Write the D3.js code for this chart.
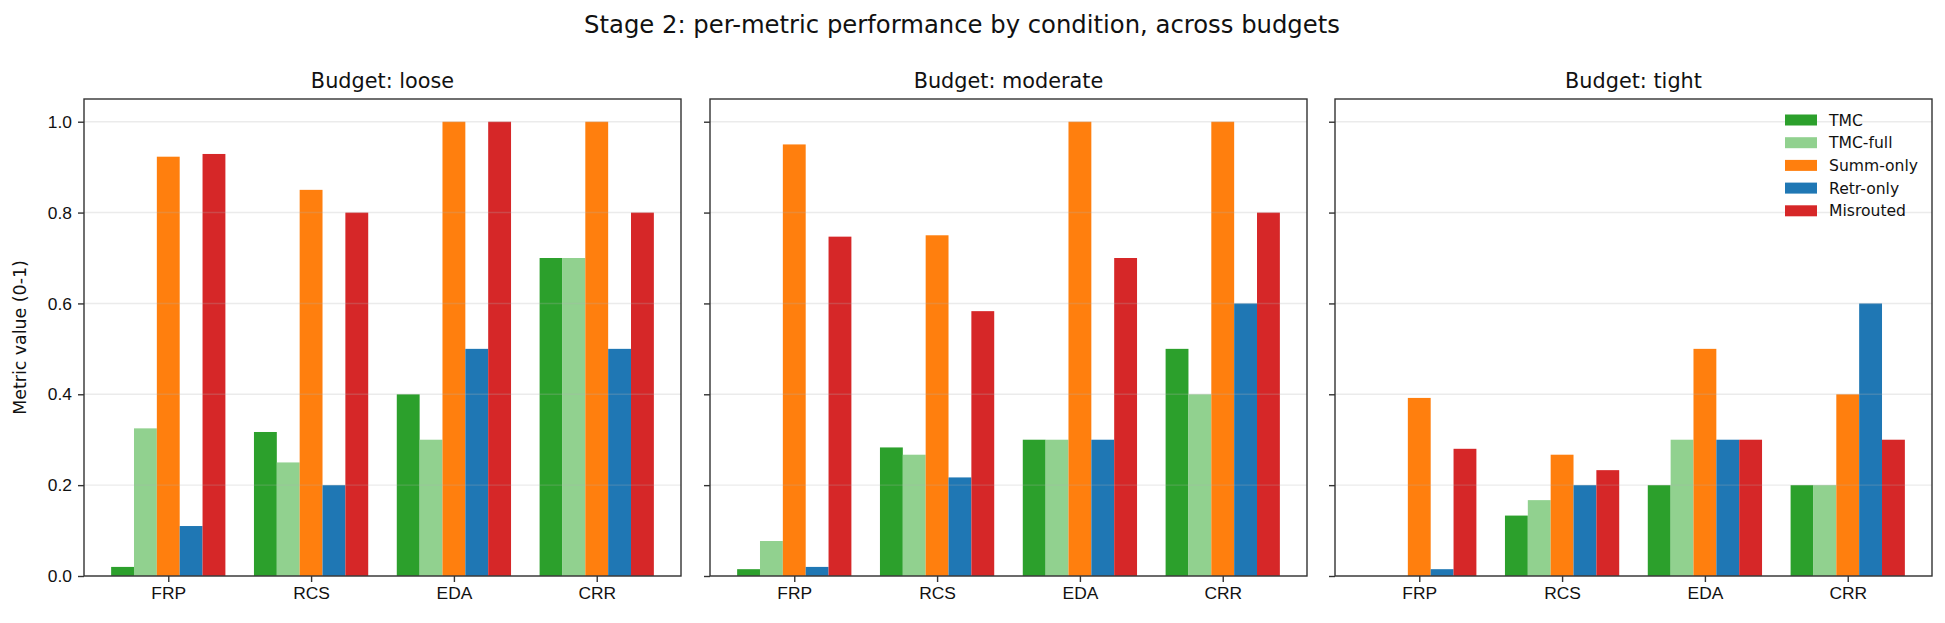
<!DOCTYPE html>
<html>
<head>
  <meta charset="utf-8">
  <style type="text/css">
  body { margin: 0; background: #fff; }
  svg { font-family: "DejaVu Sans", sans-serif; }
  .tick text { font-size: 17.4px; fill: #111; }
  .axis path { display: none; }
  .axis line { stroke: #333; stroke-width: 1.4px; }
  .grid line { stroke: #b0b0b0; stroke-opacity: 0.25; stroke-width: 1.4px; }
  .frame { fill: none; stroke: #333; stroke-width: 1.4px; }
  .legend text { font-size: 15.6px; fill: #111; }
  </style>
</head>
<body>
  <script src="https://d3js.org/d3.v7.min.js"></script>
  <script>
    // data
    var metrics = ["FRP", "RCS", "EDA", "CRR"];
    var conditions = ["TMC", "TMC-full", "Summ-only", "Retr-only", "Misrouted"];
    var colors = ["#2ca02c", "#91d18f", "#ff7f0e", "#1f77b4", "#d62728"];
    var budgets = ["loose", "moderate", "tight"];
    var yTicks = [0, 0.2, 0.4, 0.6, 0.8, 1.0];

    // one row per condition, values per metric (FRP, RCS, EDA, CRR)
    var loose = [
      [0.02, 0.317, 0.4, 0.7],
      [0.325, 0.25, 0.3, 0.7],
      [0.923, 0.85, 1.0, 1.0],
      [0.11, 0.2, 0.5, 0.5],
      [0.929, 0.8, 1.0, 0.8]
    ];
    var moderate = [
      [0.015, 0.283, 0.3, 0.5],
      [0.077, 0.267, 0.3, 0.4],
      [0.95, 0.75, 1.0, 1.0],
      [0.02, 0.217, 0.3, 0.6],
      [0.747, 0.583, 0.7, 0.8]
    ];
    var tight = [
      [0, 0.133, 0.2, 0.2],
      [0, 0.167, 0.3, 0.2],
      [0.392, 0.267, 0.5, 0.4],
      [0.015, 0.2, 0.3, 0.6],
      [0.28, 0.233, 0.3, 0.3]
    ];
    var panels = [loose, moderate, tight];

    var W = 1945, H = 623;
    var panelLeft = [84, 710, 1335];
    var panelW = 597;
    var plotTop = 99, plotBottom = 576;
    var barW = 0.16;

    var svg = d3.select("body").append("svg")
      .attr("width", W)
      .attr("height", H);

    svg.append("text")
      .attr("x", 962)
      .attr("y", 33)
      .attr("text-anchor", "middle")
      .style("font-size", "24.3px")
      .style("fill", "#111")
      .text("Stage 2: per-metric performance by condition, across budgets");

    var y = d3.scaleLinear().domain([0, 1.05]).range([plotBottom, plotTop]);

    panels.forEach(function(vals, p) {
      var x = d3.scaleLinear()
        .domain([-0.59, 3.59])
        .range([0, panelW]);

      var g = svg.append("g")
        .attr("transform", "translate(" + panelLeft[p] + ",0)");

      // bars
      conditions.forEach(function(c, i) {
        g.selectAll(".bar" + i)
          .data(vals[i])
          .enter()
          .append("rect")
          .attr("class", "bar" + i)
          .attr("x", function(d, j) { return x(j - 0.4 + i * barW); })
          .attr("width", x(barW) - x(0))
          .attr("y", function(d) { return y(d); })
          .attr("height", function(d) { return plotBottom - y(d); })
          .attr("fill", colors[i]);
      });

      // grid on top of bars
      g.append("g")
        .attr("class", "grid")
        .selectAll("line")
        .data(yTicks)
        .enter()
        .append("line")
        .attr("x1", 0)
        .attr("x2", panelW)
        .attr("y1", function(d) { return y(d); })
        .attr("y2", function(d) { return y(d); });

      var yAxis = d3.axisLeft(y)
        .tickValues(yTicks)
        .tickSize(6)
        .tickPadding(6)
        .tickFormat(p === 0 ? d3.format(".1f") : "");
      g.append("g").attr("class", "axis").call(yAxis);

      var xAxis = d3.axisBottom(x)
        .tickValues([0, 1, 2, 3])
        .tickSize(6)
        .tickPadding(5)
        .tickFormat(function(d) { return metrics[d]; });
      g.append("g")
        .attr("class", "axis")
        .attr("transform", "translate(0," + plotBottom + ")")
        .call(xAxis);

      g.append("rect")
        .attr("class", "frame")
        .attr("x", 0)
        .attr("y", plotTop)
        .attr("width", panelW)
        .attr("height", plotBottom - plotTop);

      g.append("text")
        .attr("x", panelW / 2)
        .attr("y", 88)
        .attr("text-anchor", "middle")
        .style("font-size", "20.8px")
        .style("fill", "#111")
        .text("Budget: " + budgets[p]);

      if (p === 0) {
        g.append("text")
          .attr("transform", "translate(-58," + ((plotTop + plotBottom) / 2) + ") rotate(-90)")
          .attr("text-anchor", "middle")
          .style("font-size", "17.4px")
          .style("fill", "#111")
          .text("Metric value (0-1)");
      }

      if (p === 2) {
        var legend = g.append("g")
          .attr("class", "legend")
          .attr("transform", "translate(450,120)");
        var row = legend.selectAll("g")
          .data(conditions)
          .enter()
          .append("g")
          .attr("transform", function(d, i) { return "translate(0," + (i * 22.7) + ")"; });
        row.append("rect")
          .attr("x", 0)
          .attr("y", -5.5)
          .attr("width", 32)
          .attr("height", 11)
          .attr("fill", function(d, i) { return colors[i]; });
        row.append("text")
          .attr("x", 44)
          .attr("y", 5.5)
          .text(function(d) { return d; });
      }
    });
  </script>
</body>
</html>
